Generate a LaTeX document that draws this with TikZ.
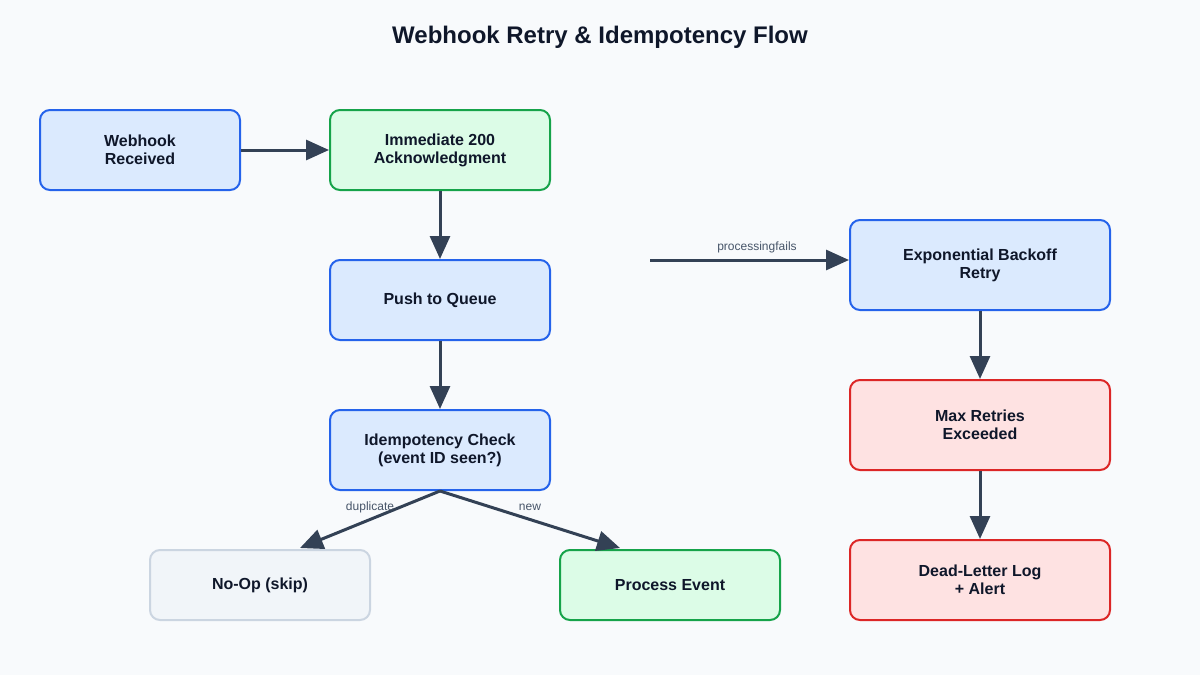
\documentclass[tikz,border=0pt]{standalone}
\usepackage{fontspec}
\setmainfont{Liberation Sans}
\usetikzlibrary{arrows.meta,calc}
\definecolor{bg}{HTML}{F8FAFC}
\definecolor{bluefill}{HTML}{DBEAFE}
\definecolor{bluedraw}{HTML}{2563EB}
\definecolor{greenfill}{HTML}{DCFCE7}
\definecolor{greendraw}{HTML}{16A34A}
\definecolor{redfill}{HTML}{FEE2E2}
\definecolor{reddraw}{HTML}{DC2626}
\definecolor{grayfill}{HTML}{F1F5F9}
\definecolor{graydraw}{HTML}{CBD5E1}
\definecolor{arrowcol}{HTML}{334155}
\definecolor{textcol}{HTML}{0F172A}
\definecolor{labelcol}{HTML}{475569}
\tikzset{
  box/.style={rounded corners=10pt, line width=2pt, align=center, text=textcol,
    font=\fontsize{16}{18}\selectfont\bfseries, inner sep=0pt},
  bluebox/.style={box, fill=bluefill, draw=bluedraw},
  greenbox/.style={box, fill=greenfill, draw=greendraw},
  redbox/.style={box, fill=redfill, draw=reddraw},
  graybox/.style={box, fill=grayfill, draw=graydraw},
  conn/.style={draw=arrowcol, line width=3pt, -{Triangle[length=23pt,width=20pt]}},
  lbl/.style={text=labelcol, font=\fontsize{12}{14}\selectfont}
}
\begin{document}
\begin{tikzpicture}[x=1pt,y=-1pt]
\fill[bg] (0,0) rectangle (1200,675);
\useasboundingbox (0,0) rectangle (1200,675);
\node[text=textcol, font=\fontsize{24}{28}\selectfont\bfseries] (title) at (600,37) {Webhook Retry \& Idempotency Flow};

\node[bluebox, minimum width=200pt, minimum height=80pt] (recv) at (140,150) {Webhook\\Received};
\node[greenbox, minimum width=220pt, minimum height=80pt] (ack) at (440,150) {Immediate 200\\Acknowledgment};
\node[bluebox, minimum width=220pt, minimum height=80pt] (queue) at (440,300) {Push to Queue};
\node[bluebox, minimum width=220pt, minimum height=80pt] (idem) at (440,450) {Idempotency Check\\(event ID seen?)};
\node[graybox, minimum width=220pt, minimum height=70pt] (noop) at (260,585) {No-Op (skip)};
\node[greenbox, minimum width=220pt, minimum height=70pt] (proc) at (670,585) {Process Event};
\node[bluebox, minimum width=260pt, minimum height=90pt] (exp) at (980,265) {Exponential Backoff\\Retry};
\node[redbox, minimum width=260pt, minimum height=90pt] (max) at (980,425) {Max Retries\\Exceeded};
\node[redbox, minimum width=260pt, minimum height=80pt] (dead) at (980,580) {Dead-Letter Log\\+ Alert};

\draw[conn] (recv.east) -- (ack.west);
\draw[conn] (ack.south) -- (queue.north);
\draw[conn] (queue.south) -- (idem.north);
\draw[conn] (idem.south) -- ($(noop.north)+(40,-1)$);
\draw[conn] (idem.south) -- ($(proc.north)+(-50,-1)$);
\coordinate (pf) at (650,260);
\draw[conn] (pf) -- (pf -| exp.west);
\draw[conn] (exp.south) -- (max.north);
\draw[conn] (max.south) -- (dead.north);

\node[lbl] (lpf) at (757,247) {processingfails};
\node[lbl] (ldup) at (370,507) {duplicate};
\node[lbl] (lnew) at (530,507) {new};
\end{tikzpicture}
\end{document}
